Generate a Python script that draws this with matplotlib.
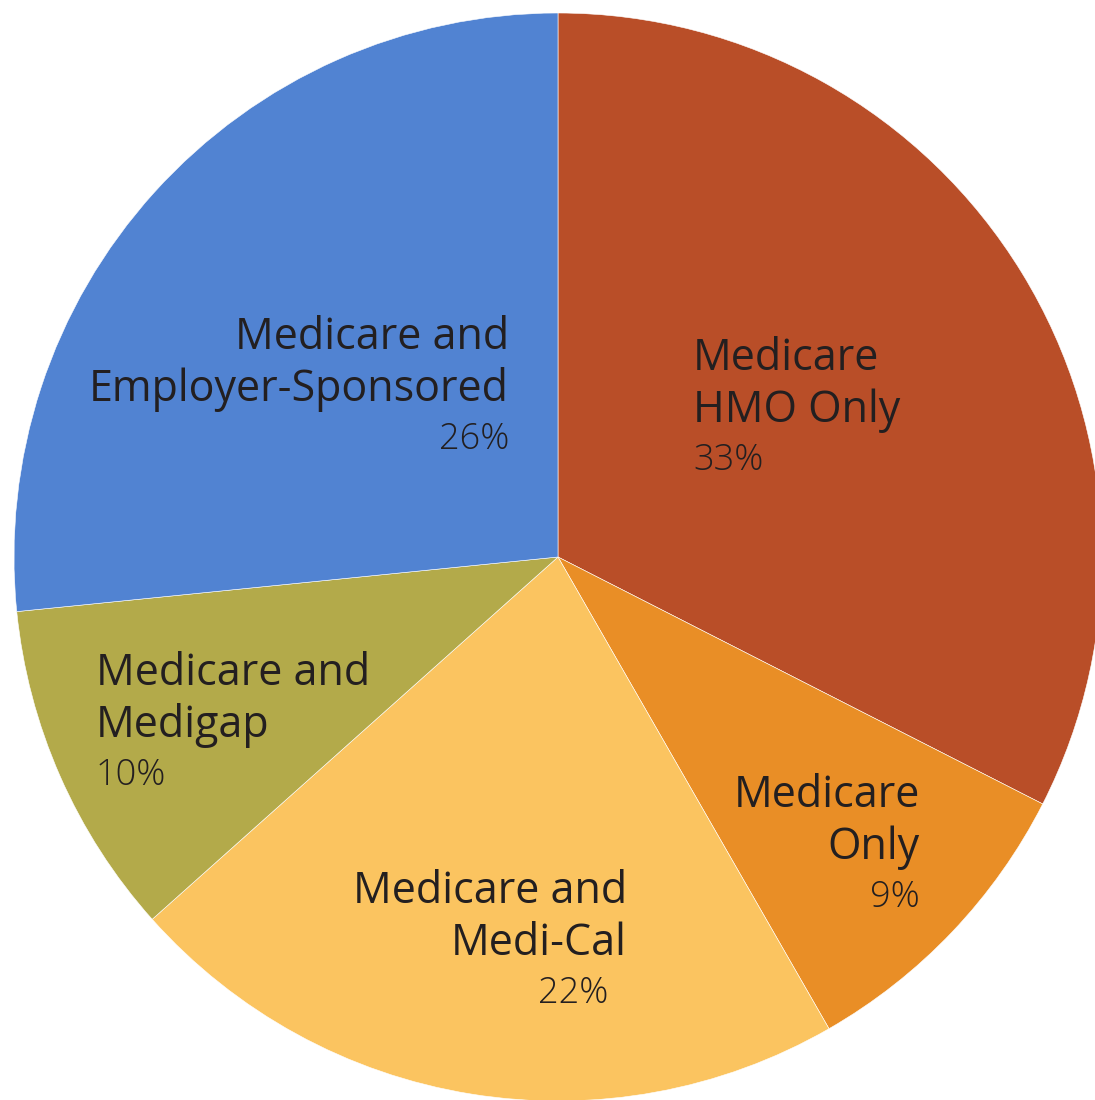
import matplotlib
matplotlib.use("Agg")
import matplotlib.pyplot as plt

# slices, clockwise from 12 o'clock
categories = ["Medicare\nHMO Only", "Medicare\nOnly", "Medicare and\nMedi-Cal",
              "Medicare and\nMedigap", "Medicare and\nEmployer-Sponsored"]
values = [32.5, 9.2, 21.7, 10.0, 26.6]
pct_labels = ["33%", "9%", "22%", "10%", "26%"]
colors = ["#B94E28", "#E98E26", "#FBC460", "#B3AA4A", "#5183D2"]

# label anchors in pixels from top-left: x, first baseline, alignment, pct x shift
label_pos = [(693, 370, "left", 0), (920, 807, "right", 0), (627, 903, "right", -19),
             (96, 685, "left", 0), (509, 349, "right", 0)]

W, H = 1095, 1100
fig = plt.figure(figsize=(W / 100, H / 100), dpi=100)
ax = fig.add_axes([0, 0, 1, 1])

ax.pie(values, colors=colors, startangle=90, counterclock=False,
       center=(558, H - 557), radius=544,
       wedgeprops=dict(edgecolor="white", linewidth=0.4))

# pie() sets its own limits, so override afterwards
ax.set_xlim(0, W)
ax.set_ylim(0, H)
ax.set_aspect("equal")
ax.axis("off")

txt = "#231F20"
for name, pct, (x, y, ha, dx) in zip(categories, pct_labels, label_pos):
    lines = name.split("\n")
    for i, line in enumerate(lines):
        ax.text(x, H - (y + i * 52), line, ha=ha, va="baseline",
                fontsize=31, color=txt, family="Open Sans")
    ax.text(x + dx, H - (y + (len(lines) - 1) * 52 + 48), pct, ha=ha, va="baseline",
            fontsize=26, color=txt, family="Open Sans", fontweight="light")

fig.savefig("out.png", dpi=100)
